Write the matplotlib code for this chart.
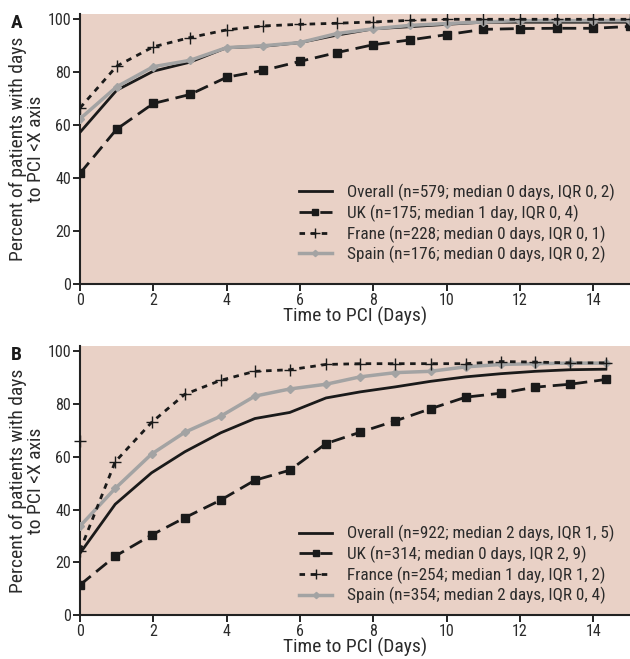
import matplotlib
matplotlib.use("Agg")
import matplotlib.pyplot as plt

plt.rcParams['font.family'] = ['Roboto Condensed', 'DejaVu Sans']

# panel A: days 0..15
days_a = list(range(16))
overall_a = [57.3, 73.2, 80.4, 83.8, 89.3, 89.8, 91.2, 94.0, 96.4, 97.2, 98.1, 98.9, 98.9, 98.9, 98.9, 98.9]
uk_a = [41.8, 58.5, 68.2, 71.6, 78.1, 80.7, 84.1, 87.4, 90.4, 92.2, 94.2, 96.2, 96.5, 96.6, 96.6, 97.3]
france_a = [66.5, 82.3, 89.6, 93.1, 96.0, 97.5, 98.1, 98.5, 99.0, 99.6, 100, 100, 100, 100, 100, 100]
spain_a = [62.4, 74.5, 82.1, 84.5, 89.3, 90.0, 91.2, 94.6, 96.4, 97.7, 98.4, 99.0, 99.5, 99.5, 99.5, 99.5]
labels_a = ['Overall (n=579; median 0 days, IQR 0, 2)',
            'UK (n=175; median 1 day, IQR 0, 4)',
            'Frane (n=228; median 0 days, IQR 0, 1)',
            'Spain (n=176; median 0 days, IQR 0, 2)']

# panel B: points are not on whole days
days_b = [0, 0.96, 1.95, 2.86, 3.84, 4.77, 5.72, 6.71, 7.64, 8.6, 9.56, 10.52, 11.48, 12.42, 13.36, 14.34]
overall_b = [23.4, 42.0, 53.9, 61.9, 69.1, 74.5, 76.8, 82.3, 84.6, 86.5, 88.6, 90.3, 91.5, 92.4, 93.0, 93.2]
uk_b = [11.4, 22.3, 30.3, 36.9, 43.6, 51.1, 54.9, 65.0, 69.3, 73.6, 78.2, 82.6, 84.1, 86.4, 87.5, 89.3]
france_b = [24.4, 58.1, 73.0, 83.7, 89.0, 92.4, 93.0, 95.0, 95.3, 95.3, 95.3, 95.3, 96.1, 95.9, 95.6, 95.6]
spain_b = [33.7, 48.0, 61.0, 69.3, 75.4, 83.0, 85.7, 87.5, 90.3, 91.9, 92.4, 94.1, 95.0, 95.3, 95.5, 95.5]
stray_b = (0, 66)  # lone "+" sitting on the y axis in the original
labels_b = ['Overall (n=922; median 2 days, IQR 1, 5)',
            'UK (n=314; median 0 days, IQR 2, 9)',
            'France (n=254; median 1 day, IQR 1, 2)',
            'Spain (n=354; median 2 days, IQR 0, 4)']

bg = '#E9D1C6'
txt = '#2b2b2b'

fig = plt.figure(figsize=(6.3, 6.59), dpi=100)
ax_a = fig.add_axes([80/630, 1-284/659, 550/630, 270/659])
ax_b = fig.add_axes([80/630, 1-615/659, 550/630, 269/659])


def draw_panel(ax, x, overall, uk, france, spain, labels, letter, leg_y):
    ax.set_facecolor(bg)
    ax.plot(x, overall, color='#1a1a1a', lw=2, label=labels[0], zorder=3)
    ax.plot(x, uk, color='#1a1a1a', lw=2, ls=(0, (5, 2.5)), marker='s', ms=6,
            label=labels[1], zorder=3)
    ax.plot(x, france, color='#1a1a1a', lw=2, ls=(0, (2, 2)), marker='+', ms=9,
            mew=1, label=labels[2], zorder=4)
    ax.plot(x, spain, color='#a3a3a3', lw=2.5, marker='D', ms=4,
            label=labels[3], zorder=3)
    ax.set_xlim(0, 15)
    ax.set_ylim(0, 102)
    ax.set_xticks(range(0, 16, 2))
    ax.set_yticks(range(0, 101, 20))
    for s in ['top', 'right']:
        ax.spines[s].set_visible(False)
    for s in ['left', 'bottom']:
        ax.spines[s].set_linewidth(1.5)
        ax.spines[s].set_color('#222222')
    ax.tick_params(direction='out', length=5, width=1.2, labelsize=11.5,
                   labelcolor=txt, pad=1.5)
    ax.set_xlabel('Time to PCI (Days)', fontsize=14, color=txt, labelpad=-1)
    ax.set_ylabel('Percent of patients with days\nto PCI <X axis', fontsize=14,
                  color=txt, linespacing=0.95, labelpad=2)
    ax.legend(loc='lower right', bbox_to_anchor=(1.0, leg_y), frameon=False,
              fontsize=12.3, handlelength=1.9, handletextpad=0.9, markerscale=0.8,
              labelspacing=0.2, borderaxespad=0.5, labelcolor=txt)
    ax.text(-0.125, 1.0, letter, transform=ax.transAxes, fontsize=14,
            fontweight='bold', color='#1a1a1a', va='top', ha='left')


draw_panel(ax_a, days_a, overall_a, uk_a, france_a, spain_a, labels_a, 'A', 0.02)
draw_panel(ax_b, days_b, overall_b, uk_b, france_b, spain_b, labels_b, 'B', -0.018)
ax_b.plot([stray_b[0]], [stray_b[1]], marker='+', ms=9, mew=1, color='#1a1a1a',
          ls='none', clip_on=False, zorder=5)

fig.savefig('out.png', dpi=100)
